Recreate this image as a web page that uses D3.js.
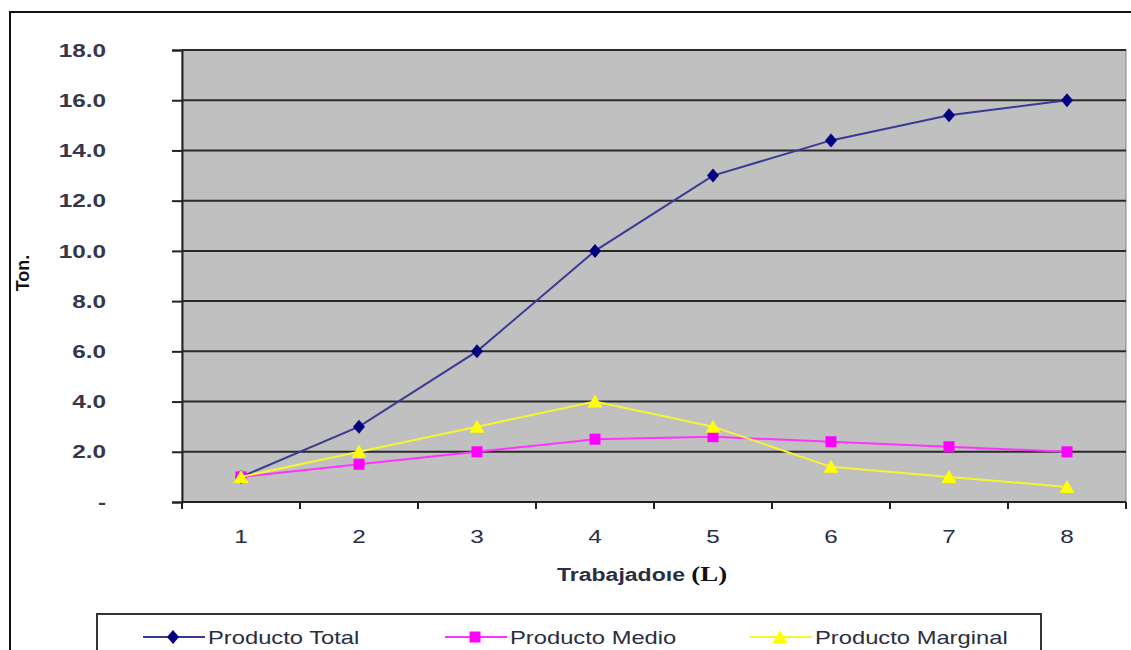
<!DOCTYPE html>
<html><head><meta charset="utf-8">
<script src="https://cdn.jsdelivr.net/npm/d3@7"></script>
<style>
html,body{margin:0;padding:0;background:#fff;}
svg{display:block;font-family:Arial,"Liberation Sans",sans-serif;}
</style></head>
<body><svg id="c" width="1131" height="650"></svg>
<script>
const categories = ["1","2","3","4","5","6","7","8"];
const productoTotal = [1.0, 3.0, 6.0, 10.0, 13.0, 14.4, 15.4, 16.0];
const productoMedio = [1.0, 1.5, 2.0, 2.5, 2.6, 2.4, 2.2, 2.0];
const productoMarginal = [1.0, 2.0, 3.0, 4.0, 3.0, 1.4, 1.0, 0.6];
const yTicks = [0, 2, 4, 6, 8, 10, 12, 14, 16, 18];
const seriesNames = ["Producto Total", "Producto Medio", "Producto Marginal"];
const yTitle = "Ton.";
const xTitle = "Trabajadoıe";

const SX = 1.28; // horizontal stretch of the reference's text
const svg = d3.select("#c");
const L = 182, R = 1126, T = 50, B = 502;
const x = d3.scaleBand().domain(categories).range([L, R]);
const y = d3.scaleLinear().domain([0, 18]).range([B, T]);

// outer frame
svg.append("path").attr("d", "M10,650 V12 H1131").attr("fill", "none").attr("stroke", "#111").attr("stroke-width", 2);

// plot area
svg.append("rect").attr("x", L).attr("y", T).attr("width", R - L).attr("height", B - T)
  .attr("fill", "#c0c0c0").attr("stroke", "#808080").attr("stroke-width", 1);

// gridlines
svg.append("g").selectAll("line").data(yTicks.filter(d => d > 0)).join("line")
  .attr("x1", L).attr("x2", R).attr("y1", d => y(d)).attr("y2", d => y(d))
  .attr("stroke", "#2a2a2a").attr("stroke-width", 2);

// y axis
const yAxis = svg.append("g").attr("transform", `translate(${L},0)`)
  .call(d3.axisLeft(y).tickValues(yTicks).tickSize(10).tickFormat(""));
yAxis.select(".domain").attr("stroke", "#222").attr("stroke-width", 2);
yAxis.selectAll(".tick line").attr("stroke", "#222").attr("stroke-width", 2);
svg.append("g").selectAll("text").data(yTicks).join("text")
  .attr("transform", d => `translate(106,${y(d)}) scale(${SX},1)`)
  .attr("dy", "0.35em").attr("text-anchor", "end")
  .attr("font-size", 19).attr("font-weight", "bold").attr("fill", "#34384a")
  .text(d => d === 0 ? "-" : d3.format(".1f")(d));

// x axis
svg.append("line").attr("x1", L).attr("x2", R).attr("y1", B).attr("y2", B)
  .attr("stroke", "#222").attr("stroke-width", 2);
const bounds = categories.map(c => x(c)).concat([x.range()[1]]);
svg.append("g").selectAll("line").data(bounds).join("line")
  .attr("x1", d => d).attr("x2", d => d).attr("y1", B).attr("y2", B + 7)
  .attr("stroke", "#222").attr("stroke-width", 2);
svg.append("g").selectAll("text").data(categories).join("text")
  .attr("transform", d => `translate(${x(d) + x.bandwidth() / 2},536) scale(${SX},1)`)
  .attr("dy", "0.35em").attr("text-anchor", "middle")
  .attr("font-size", 19).attr("fill", "#2a2e40").text(d => d);

// axis titles
svg.append("text").attr("transform", "translate(29,273) rotate(-90)")
  .attr("text-anchor", "middle").attr("font-size", 18).attr("font-weight", "bold")
  .attr("fill", "#111").text(yTitle);

const xt = svg.append("text").attr("transform", `translate(557,581) scale(${SX},1)`)
  .attr("font-size", 18).attr("font-weight", "bold").attr("fill", "#2a2e40");
xt.append("tspan").text(xTitle + " ");
xt.append("tspan").attr("font-family", "'Liberation Serif', 'DejaVu Serif', serif").attr("font-size", 21).attr("fill", "#111").text("(L)");

// series
const line = d3.line().x((d, i) => x(categories[i]) + x.bandwidth() / 2).y(d => y(d));
const series = [
  {name: seriesNames[0], values: productoTotal, color: "#000080", lineColor: "#3a3a94", shape: "diamond"},
  {name: seriesNames[1], values: productoMedio, color: "#ff00ff", lineColor: "#ff33ff", shape: "square"},
  {name: seriesNames[2], values: productoMarginal, color: "#ffff00", lineColor: "#f5f533", shape: "triangle"}
];
function drawMarker(g, s, cx, cy) {
  if (s.shape === "diamond") {
    g.append("path").attr("d", "M0,-7 L6,0 L0,7 L-6,0 Z").attr("transform", `translate(${cx},${cy})`).attr("fill", s.color);
  } else if (s.shape === "square") {
    g.append("rect").attr("x", cx - 5.5).attr("y", cy - 5.5).attr("width", 11).attr("height", 11).attr("fill", s.color);
  } else {
    g.append("path").attr("d", "M0,-7 L7.5,6 L-7.5,6 Z").attr("transform", `translate(${cx},${cy})`).attr("fill", s.color);
  }
}
series.forEach(s => {
  const g = svg.append("g");
  g.append("path").attr("d", line(s.values)).attr("fill", "none").attr("stroke", s.lineColor).attr("stroke-width", 2);
  s.values.forEach((v, i) => drawMarker(g, s, x(categories[i]) + x.bandwidth() / 2, y(v)));
});

// legend
svg.append("path").attr("d", "M97,652 V614 H1041 V652").attr("fill", "none").attr("stroke", "#333").attr("stroke-width", 2);
const legX = [143, 445, 750];
series.forEach((s, i) => {
  const g = svg.append("g");
  g.append("line").attr("x1", legX[i]).attr("x2", legX[i] + 62).attr("y1", 637).attr("y2", 637)
    .attr("stroke", s.lineColor).attr("stroke-width", 2);
  drawMarker(g, s, legX[i] + 30, 637);
  g.append("text").attr("transform", `translate(${legX[i] + 65},637) scale(1.25,1)`)
    .attr("dy", "0.35em").attr("font-size", 19).attr("fill", "#2a2e40").text(s.name);
});
</script>
</body></html>
